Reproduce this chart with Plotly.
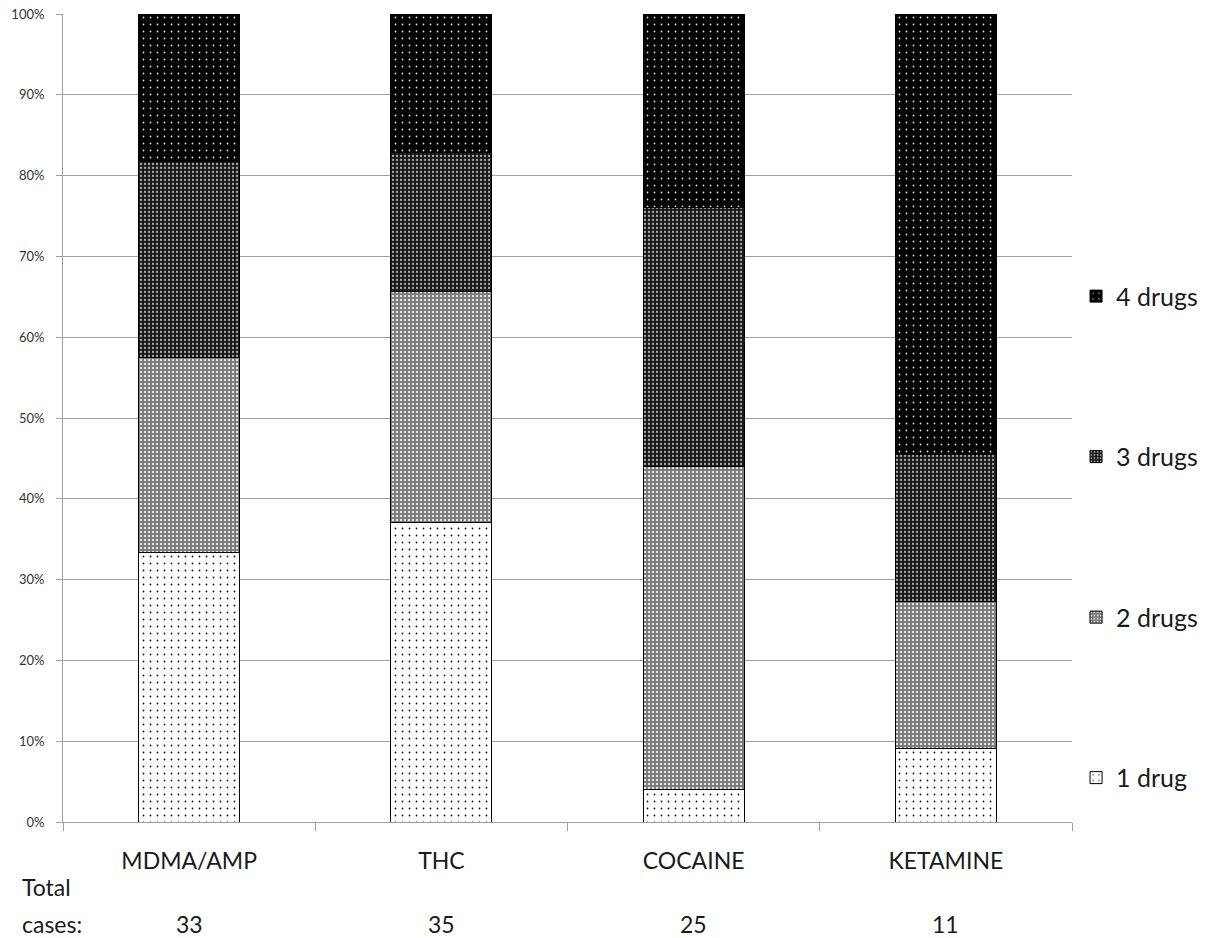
import plotly.graph_objects as go

# Drug groups and number of cases in each
categories = ["MDMA/AMP", "THC", "COCAINE", "KETAMINE"]
total_cases = [33, 35, 25, 11]

# Share of cases (in %) by number of drugs detected
one_drug = [33.3, 37.1, 4.0, 9.1]
two_drugs = [24.2, 28.6, 40.0, 18.2]
three_drugs = [24.2, 17.1, 32.0, 18.2]
four_drugs = [18.2, 17.1, 24.0, 54.5]

# name, values, fill pattern, legend position (top = 1)
series = [
    ("1 drug", one_drug, dict(shape=".", bgcolor="white", fgcolor="#111111", size=7, solidity=0.05), 4),
    ("2 drugs", two_drugs, dict(shape=".", bgcolor="#7d7d7d", fgcolor="#ffffff", size=4, solidity=0.22), 3),
    ("3 drugs", three_drugs, dict(shape=".", bgcolor="#1a1a1a", fgcolor="#a8a8a8", size=4, solidity=0.25), 2),
    ("4 drugs", four_drugs, dict(shape=".", bgcolor="black", fgcolor="#e0e0e0", size=7, solidity=0.05), 1),
]

FONT = "Lato, 'Open Sans', sans-serif"

fig = go.Figure()
for name, vals, pat, rank in series:
    fig.add_trace(go.Bar(
        x=categories,
        y=[v / 100 for v in vals],
        name=name,
        legendgroup=name,
        legendrank=rank,
        width=0.4,
        marker=dict(color=pat["bgcolor"], pattern=dict(fillmode="replace", **pat),
                    line=dict(color="black", width=1)),
    ))

label_font = dict(family=FONT, size=23, color="#1a1a1a")
annotations = [
    dict(text="Total", x=0, y=0, xref="paper", yref="paper", xshift=-43, yshift=-49,
         xanchor="left", yanchor="top", showarrow=False, font=label_font),
    dict(text="cases:", x=0, y=0, xref="paper", yref="paper", xshift=-43, yshift=-86,
         xanchor="left", yanchor="top", showarrow=False, font=label_font),
]
for cat, n in zip(categories, total_cases):
    annotations.append(dict(text=str(n), x=cat, y=0, xref="x", yref="paper", yshift=-86,
                            xanchor="center", yanchor="top", showarrow=False, font=label_font))

fig.update_layout(
    width=1220, height=938,
    margin=dict(l=63, r=148, t=14, b=116),
    barmode="stack",
    bargap=0.6,
    plot_bgcolor="white", paper_bgcolor="white",
    font=dict(family=FONT, color="#1a1a1a"),
    showlegend=True,
    legend=dict(traceorder="grouped", x=1.004, xanchor="left", y=0.679, yanchor="top",
                tracegroupgap=125, font=dict(family=FONT, size=25, color="#1a1a1a"),
                itemwidth=30, bgcolor="rgba(0,0,0,0)"),
    annotations=annotations,
)
fig.update_xaxes(
    showline=True, linecolor="#a0a0a0", linewidth=1,
    ticks="outside", tickson="boundaries", ticklen=8, tickcolor="#a0a0a0",
    tickfont=label_font,
    ticklabelstandoff=18,
    showgrid=False,
    automargin=False,
)
fig.update_yaxes(
    range=[0, 1], dtick=0.1, tickformat=".0%",
    showline=True, linecolor="#a0a0a0", linewidth=1,
    ticks="outside", ticklen=6, tickcolor="#a0a0a0",
    gridcolor="#a0a0a0", gridwidth=1,
    tickfont=dict(family=FONT, size=13, color="#333333"),
    ticklabelstandoff=9,
    zeroline=False,
    automargin=False,
)

fig.write_html("out.html")
